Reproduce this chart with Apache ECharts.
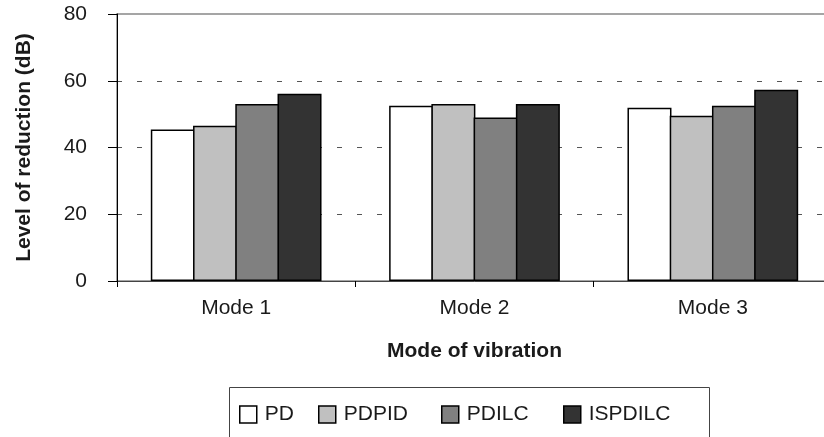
<!DOCTYPE html>
<html lang="en">
<head>
	<meta charset="UTF-8">
	<title>Level of reduction</title>
	<script type="text/javascript" src="https://cdn.jsdelivr.net/npm/echarts@6/dist/echarts.min.js"></script>
	<style type="text/css">
	html, body{margin: 0; padding: 0; background: #fff; overflow: hidden;}
	#container{width: 832px; height: 437px;}
	</style>
</head>
<body>
	<div id="container"></div>
	<script type="text/javascript">
		var modes = ['Mode 1', 'Mode 2', 'Mode 3'];
		var pd = [45.4, 52.5, 51.9];
		var pdpid = [46.5, 53.0, 49.5];
		var pdilc = [53.0, 49.0, 52.5];
		var ispdilc = [56.1, 53.0, 57.3];
		var yTicks = [0, 20, 40, 60, 80];
		var names = ['PD', 'PDPID', 'PDILC', 'ISPDILC'];
		var colors = ['#ffffff', '#c0c0c0', '#808080', '#333333'];

		var font = 'Liberation Sans, Arial, sans-serif';
		var dom = document.getElementById("container");
		var myChart = echarts.init(dom);

		function bar(i, data){
			return {
				name: names[i],
				type: 'bar',
				data: data,
				barWidth: 44,
				barGap: '-4%',
				itemStyle: {color: colors[i], borderColor: '#000', borderWidth: 1.5}
			};
		}

		// one legend per item so each sits where the original puts it
		var legendLeft = [239, 318, 441, 563];
		var legends = names.map(function(n, i){
			return {
				left: legendLeft[i],
				top: 404,
				padding: 0,
				itemWidth: 17,
				itemHeight: 17,
				icon: 'rect',
				textStyle: {fontFamily: font, fontSize: 21, color: '#1a1a1a', padding: [0, 0, 0, 3]},
				itemStyle: {borderColor: '#000', borderWidth: 1.5},
				data: [n]
			};
		});

		var option = {
			animation: false,
			grid: {
				left: 117,
				right: 0,
				top: 14,
				bottom: 156,
				show: true,
				borderColor: '#888',
				borderWidth: 1.5
			},
			legend: legends,
			graphic: [{
				type: 'rect',
				shape: {x: 229.5, y: 387.5, width: 480, height: 80},
				style: {fill: 'none', stroke: '#444', lineWidth: 1},
				silent: true
			}],
			xAxis: {
				type: 'category',
				data: modes,
				name: 'Mode of vibration',
				nameLocation: 'middle',
				nameGap: 60,
				nameTextStyle: {fontFamily: font, fontSize: 21, fontWeight: 'bold', color: '#1a1a1a'},
				axisLine: {lineStyle: {color: '#444', width: 1}},
				axisTick: {show: true, length: 6, lineStyle: {color: '#000'}},
				axisLabel: {fontFamily: font, fontSize: 21, color: '#1a1a1a', margin: 17}
			},
			yAxis: {
				type: 'value',
				min: yTicks[0],
				max: yTicks[yTicks.length - 1],
				interval: 20,
				name: 'Level of reduction (dB)',
				nameLocation: 'middle',
				nameGap: 82,
				nameTextStyle: {fontFamily: font, fontSize: 21, fontWeight: 'bold', color: '#1a1a1a'},
				axisLine: {show: true, lineStyle: {color: '#000', width: 1}},
				axisTick: {show: true, length: 9, lineStyle: {color: '#000'}},
				axisLabel: {fontFamily: font, fontSize: 21, color: '#1a1a1a', margin: 30},
				splitLine: {show: true, lineStyle: {color: ['#555', '#555', '#555', '#555', 'rgba(0,0,0,0)'], type: [5, 15], width: 1}}
			},
			series: [
				bar(0, pd),
				bar(1, pdpid),
				bar(2, pdilc),
				bar(3, ispdilc)
			]
		};
		myChart.setOption(option);
	</script>
</body>
</html>
